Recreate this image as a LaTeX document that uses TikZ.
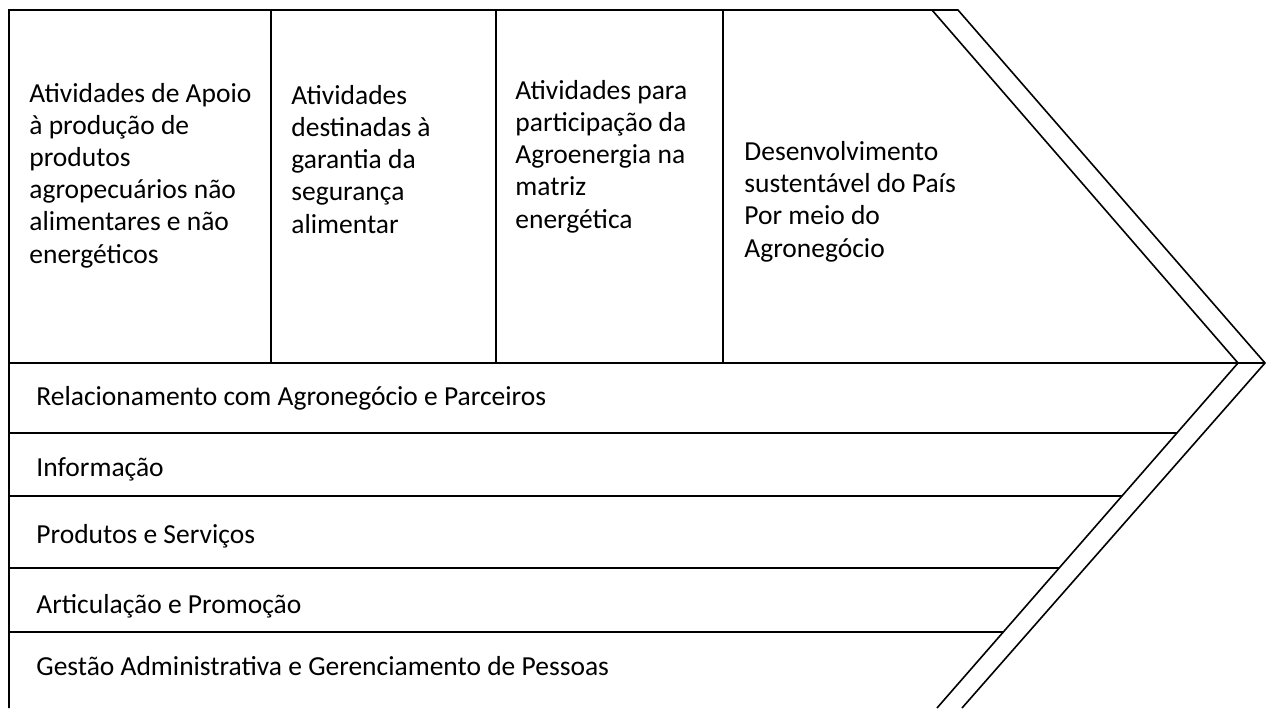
\documentclass[tikz,border=0pt]{standalone}
\usepackage{fontspec}
\setmainfont{Carlito}
\usetikzlibrary{calc,positioning}

\tikzset{
  frame/.style={line width=0.8pt,black},
  coltext/.style={anchor=base west,align=left,inner sep=0pt,font=\fontsize{13.75}{16.1}\selectfont},
  rowtext/.style={anchor=base west,inner sep=0pt,font=\fontsize{13.75}{16.1}\selectfont},
}

\begin{document}
\begin{tikzpicture}[x=0.5pt,y=-0.5pt]
  \useasboundingbox (0,0) rectangle (1271,708);
  % corners of the chevron
  \coordinate (tl) at (9,10);
  \coordinate (bl) at (9,708);
  \coordinate (topin) at (932,10);
  \coordinate (topout) at (958,10);
  \coordinate (tipin) at (1238,363);
  \coordinate (tipout) at (1265,363);
  \coordinate (botin) at (937,708);
  \coordinate (botout) at (962,708);
  \draw[frame] (bl) -- (tl) -- (topout) -- (tipout) -- (botout);
  \draw[frame] (topin) -- (tipin) -- (botin);
  \draw[frame] (9,363) -- (tipout);
  % columns
  \foreach \x in {271,496,723} \draw[frame] (\x,10) -- (\x,363);
  % rows
  \foreach \y in {433,496,568,632}
    \draw[frame] (9,\y) -- (intersection of tipin--botin and 0,\y--1,\y);

  % base anchor = baseline of the last line
  \node[coltext] (apoio) at (29,263) {Atividades de Apoio\\à produção de\\produtos\\agropecuários não\\alimentares e não\\energéticos};
  \node[coltext] (seguranca) at (291,233) {Atividades\\destinadas à\\garantia da\\segurança\\alimentar};
  \node[coltext] (agroenergia) at (515,228) {Atividades para\\participação da\\Agroenergia na\\matriz\\energética};
  \node[coltext] (desenv) at (744,257) {Desenvolvimento\\sustentável do País\\Por meio do\\Agronegócio};

  \node[rowtext] (rel) at (36,405) {Relacionamento com Agronegócio e Parceiros};
  \node[rowtext] (info) at (36,476) {Informação};
  \node[rowtext] (prod) at (36,543) {Produtos e Serviços};
  \node[rowtext] (artic) at (36,613) {Articulação e Promoção};
  \node[rowtext] (gestao) at (36,675) {Gestão Administrativa e Gerenciamento de Pessoas};
\end{tikzpicture}
\end{document}
